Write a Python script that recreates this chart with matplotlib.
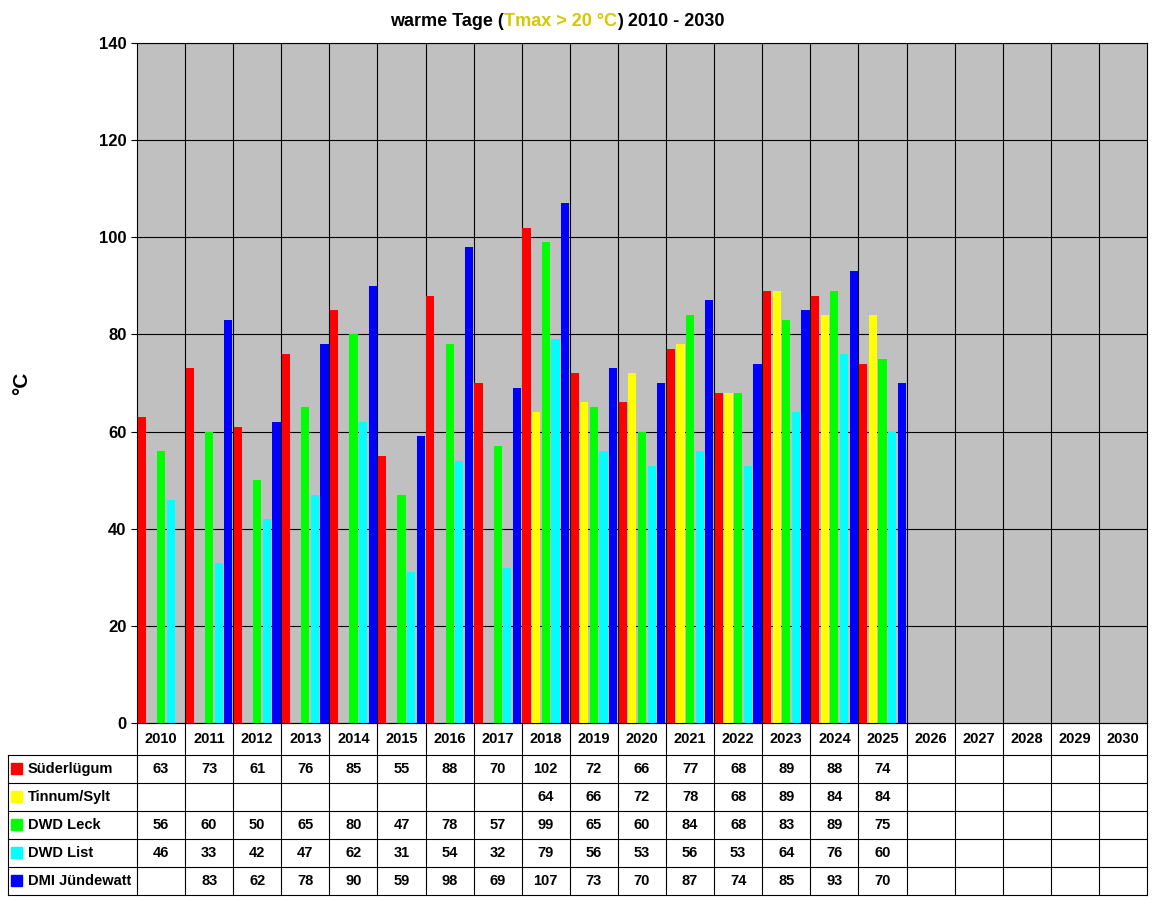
import matplotlib
matplotlib.use("Agg")
import matplotlib.pyplot as plt
import numpy as np

plt.rcParams['font.family'] = ['Liberation Sans', 'DejaVu Sans']
plt.rcParams['font.weight'] = 'bold'

years = [str(y) for y in range(2010, 2031)]
series_names = ["Süderlügum", "Tinnum/Sylt", "DWD Leck", "DWD List", "DMI Jündewatt"]
colors = ["#ff0000", "#ffff00", "#00ff00", "#00ffff", "#0000ff"]
N = None
suederluegum = [63, 73, 61, 76, 85, 55, 88, 70, 102, 72, 66, 77, 68, 89, 88, 74]
tinnum = [N, N, N, N, N, N, N, N, 64, 66, 72, 78, 68, 89, 84, 84]
leck = [56, 60, 50, 65, 80, 47, 78, 57, 99, 65, 60, 84, 68, 83, 89, 75]
dwd_list = [46, 33, 42, 47, 62, 31, 54, 32, 79, 56, 53, 56, 53, 64, 76, 60]
juendewatt = [N, 83, 62, 78, 90, 59, 98, 69, 107, 73, 70, 87, 74, 85, 93, 70]
series = [suederluegum, tinnum, leck, dwd_list, juendewatt]

W, H = 1152, 900
fig = plt.figure(figsize=(W/100, H/100), dpi=100)
L, R, T, B = 137, 1147, 43, 723
ax = fig.add_axes([L/W, 1-B/H, (R-L)/W, (B-T)/H])
ax.set_facecolor("#c0c0c0")
nc = len(years)
ax.set_xlim(-0.5, nc-0.5)
ax.set_ylim(0, 140)
offs = [-0.4, -0.2, 0, 0.2, 0.4]
for s, c, o in zip(series, colors, offs):
    xs = [i+o for i, v in enumerate(s) if v is not None]
    vs = [v for v in s if v is not None]
    ax.bar(xs, vs, width=0.17, color=c, zorder=3)
ax.set_yticks(range(0, 141, 20))
ax.tick_params(axis='y', labelsize=12, length=4)
ax.set_xticks([])
for y in range(20, 141, 20):
    ax.axhline(y, color='black', lw=0.8, zorder=1)
for i in range(nc-1):
    ax.axvline(i+0.5, color='black', lw=0.8, zorder=1)
for sp in ax.spines.values():
    sp.set_color('black'); sp.set_linewidth(0.8)
fig.text(22/W, 1-383/H, "°C", rotation=90, fontsize=15, ha='center', va='center')

# title
tx = 390
parts = [("warme Tage (", "black"), ("Tmax > 20 °C", "#d8c800"), (") 2010 - 2030", "black")]
r = fig.canvas.get_renderer()
for txt, c in parts:
    t = fig.text(tx/W, 1-22/H, txt, color=c, fontsize=13, va='center', ha='left')
    bb = t.get_window_extent(renderer=r)
    tx += bb.width

# table
ov = fig.add_axes([0, 0, 1, 1], facecolor='none')
ov.set_xlim(0, W); ov.set_ylim(H, 0); ov.axis('off')
cw = (R-L)/nc
rows = [723, 755, 783, 811, 839, 867, 895]
lw = 0.8
# horizontal lines
ov.plot([L, R], [rows[0], rows[0]], color='black', lw=lw)
for y in rows[1:]:
    ov.plot([8, R], [y, y], color='black', lw=lw)
for i in range(nc+1):
    x = L + i*cw
    ov.plot([x, x], [rows[0], rows[-1]], color='black', lw=lw)
ov.plot([8, 8], [rows[1], rows[-1]], color='black', lw=lw)
for i, yl in enumerate(years):
    ov.text(L+(i+0.5)*cw, (rows[0]+rows[1])/2, yl, ha='center', va='center', fontsize=10.5)
for k, (nm, c, s) in enumerate(zip(series_names, colors, series)):
    yc = (rows[k+1]+rows[k+2])/2
    ov.add_patch(plt.Rectangle((11, yc-6), 11, 11, color=c))
    ov.text(28, yc, nm, ha='left', va='center', fontsize=10.5)
    for i, v in enumerate(s):
        if v is not None:
            ov.text(L+(i+0.5)*cw, yc, str(v), ha='center', va='center', fontsize=10.5)

fig.savefig("out.png", dpi=100, facecolor='white')
